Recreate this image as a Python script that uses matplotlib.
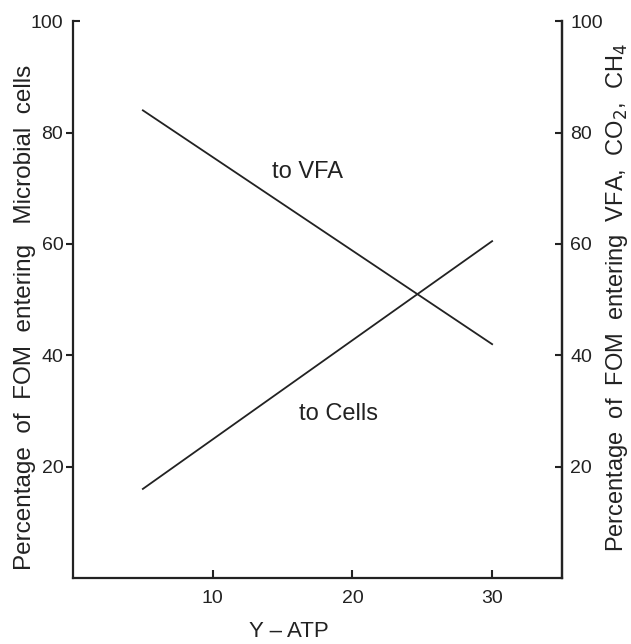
import matplotlib.pyplot as plt

plt.rcParams['font.family'] = ['Liberation Sans', 'DejaVu Sans']

# -----------------------------
# Data
# -----------------------------

y_atp = [5, 30]
to_cells = [16, 60.5]
to_vfa = [84, 42]

yticks = [20, 40, 60, 80]
xticks = [10, 20, 30]

# -----------------------------
# Plot
# -----------------------------

fig = plt.figure(figsize=(6.31, 6.44), dpi=100)
ax = fig.add_axes([0.1157, 0.1025, 0.7749, 0.8645])

ax.plot(y_atp, to_vfa, color="#222222", linewidth=1.3)
ax.plot(y_atp, to_cells, color="#222222", linewidth=1.3)

ax.text(16.8, 73, "to VFA", fontsize=17, ha="center", va="center", color="#222222")
ax.text(19.0, 29.5, "to Cells", fontsize=17, ha="center", va="center", color="#222222")

ax.set_xlim(0, 35)
ax.set_ylim(0, 100)

ax.spines["top"].set_visible(False)
for side in ["left", "right", "bottom"]:
    ax.spines[side].set_linewidth(1.6)
    ax.spines[side].set_color("#222222")

# left axis: outward ticks, inward tick at 100
ax.set_yticks(yticks)
ax.set_yticks([100], minor=True)
ax.set_yticklabels(["100"], minor=True)
ax.tick_params(axis="y", which="major", direction="out", length=5, width=1.5,
               labelsize=14, pad=2, colors="#222222")
ax.tick_params(axis="y", which="minor", direction="in", length=5, width=1.5,
               labelsize=14, pad=7, colors="#222222")

ax.set_xticks(xticks)
ax.tick_params(axis="x", direction="in", length=6, width=1.5,
               labelsize=14, pad=9, colors="#222222")

# right axis
ax2 = ax.twinx()
ax2.set_ylim(0, 100)
ax2.set_yticks(yticks + [100])
ax2.tick_params(axis="y", direction="in", length=5, width=1.5,
                labelsize=14, pad=6, colors="#222222")
for side in ["top", "left", "bottom"]:
    ax2.spines[side].set_visible(False)
ax2.spines["right"].set_linewidth(1.6)
ax2.spines["right"].set_color("#222222")

ax.set_ylabel("Percentage  of  FOM  entering   Microbial  cells",
              fontsize=17.5, color="#222222")
ax.yaxis.set_label_coords(-0.076, 0.469)

ax2.set_ylabel("Percentage  of  FOM  entering  VFA,  CO$_2$,  CH$_4$",
               fontsize=17, color="#222222", rotation=90)
ax2.yaxis.set_label_coords(1.086, 0.503)

ax.set_xlabel("Y – ATP", fontsize=16, color="#222222")
ax.xaxis.set_label_coords(0.441, -0.078)

plt.savefig("out.png", dpi=100)
